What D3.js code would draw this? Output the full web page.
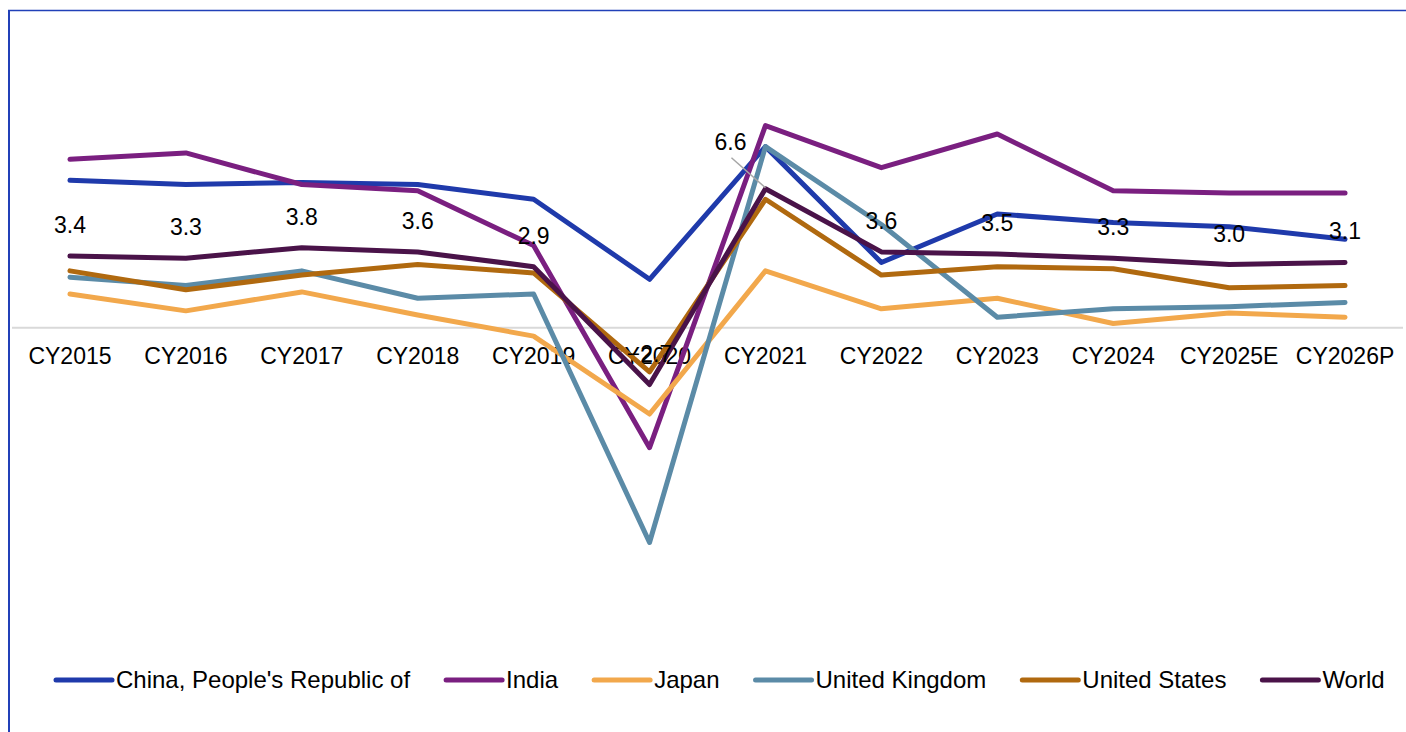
<!DOCTYPE html>
<html>
<head>
<meta charset="utf-8">
<script src="https://cdn.jsdelivr.net/npm/d3@7"></script>
<style>
  html, body { margin: 0; padding: 0; background: #ffffff; }
  svg { display: block; font-family: "Liberation Sans", Arial, sans-serif; }
</style>
</head>
<body>
<svg id="chart" width="1406" height="732"></svg>
<script>
// Real GDP growth (%), calendar years
const categories = ["CY2015", "CY2016", "CY2017", "CY2018", "CY2019", "CY2020",
                    "CY2021", "CY2022", "CY2023", "CY2024", "CY2025E", "CY2026P"];
const china = [7.0, 6.8, 6.9, 6.8, 6.1, 2.3, 8.6, 3.1, 5.4, 5.0, 4.8, 4.2];
const india = [8.0, 8.3, 6.8, 6.5, 3.9, -5.7, 9.6, 7.6, 9.2, 6.5, 6.4, 6.4];
const japan = [1.6, 0.8, 1.7, 0.6, -0.4, -4.1, 2.7, 0.9, 1.4, 0.2, 0.7, 0.5];
const unitedKingdom = [2.4, 2.0, 2.7, 1.4, 1.6, -10.2, 8.6, 4.9, 0.5, 0.9, 1.0, 1.2];
const unitedStates = [2.7, 1.8, 2.5, 3.0, 2.6, -2.1, 6.1, 2.5, 2.9, 2.8, 1.9, 2.0];
const world = [3.4, 3.3, 3.8, 3.6, 2.9, -2.7, 6.6, 3.6, 3.5, 3.3, 3.0, 3.1];

const seriesNames = ["China, People's Republic of", "India", "Japan",
                     "United Kingdom", "United States", "World"];
const seriesColors = ["#1f3aab", "#7a1f80", "#f2a84c", "#5b8ba7", "#b0690f", "#4a1349"];
const seriesValues = [china, india, japan, unitedKingdom, unitedStates, world];

const series = seriesNames.map((name, i) => ({
  name, color: seriesColors[i], values: seriesValues[i]
}));

const svg = d3.select("#chart");

// frame
svg.append("line").attr("x1", 8).attr("x2", 1406).attr("y1", 10.5).attr("y2", 10.5)
  .attr("stroke", "#2140b8").attr("stroke-width", 1.5);
svg.append("line").attr("x1", 9).attr("x2", 9).attr("y1", 10).attr("y2", 732)
  .attr("stroke", "#2140b8").attr("stroke-width", 2);

const x = d3.scaleBand().domain(categories).range([12, 1403]).padding(0);
const y = d3.scaleLinear().domain([-15, 15]).range([643.5, 11.9]);
const cx = c => x(c) + x.bandwidth() / 2;

// zero baseline
svg.append("line")
  .attr("x1", x.range()[0]).attr("x2", x.range()[1])
  .attr("y1", y(0)).attr("y2", y(0))
  .attr("stroke", "#d9d9d9").attr("stroke-width", 2);

// category axis labels sitting under the baseline
const axis = d3.axisBottom(x).tickSize(0).tickPadding(0);
const axisG = svg.append("g").attr("transform", `translate(0,${y(0)})`).call(axis);
axisG.select(".domain").remove();
axisG.selectAll("text")
  .attr("y", 28).attr("dy", "0.35em")
  .attr("font-size", 23)
  .attr("font-family", "Liberation Sans, Arial, sans-serif")
  .attr("fill", "#000");

// series lines
const line = d3.line()
  .x((d, i) => cx(categories[i]))
  .y(d => y(d));

svg.append("g").selectAll("path")
  .data(series)
  .join("path")
  .attr("d", s => line(s.values))
  .attr("fill", "none")
  .attr("stroke", s => s.color)
  .attr("stroke-width", 5)
  .attr("stroke-linejoin", "round")
  .attr("stroke-linecap", "round");

// World value labels
const fmt = d3.format(".1f");
const labelData = world.map((v, i) => ({ v, c: categories[i] }));
const movedIdx = categories.indexOf("CY2021");
const labelG = svg.append("g");

labelData.forEach((d, i) => {
  let lx = cx(d.c), ly = y(d.v) - 31;
  if (i === movedIdx) {
    lx = cx(d.c) - 35;
    ly = y(d.v) - 47;
    labelG.append("line")
      .attr("x1", lx + 1).attr("y1", ly + 16)
      .attr("x2", cx(d.c)).attr("y2", y(d.v) - 1)
      .attr("stroke", "#a6a6a6").attr("stroke-width", 1.5);
  }
  labelG.append("text")
    .attr("x", lx).attr("y", ly).attr("dy", "0.35em")
    .attr("text-anchor", "middle")
    .attr("font-size", 23)
    .attr("fill", "#000")
    .text(fmt(d.v));
});

// legend
const legend = svg.append("g").attr("transform", "translate(0,680)");
let lxPos = 56;
series.forEach(s => {
  const g = legend.append("g").attr("transform", `translate(${lxPos},0)`);
  g.append("line")
    .attr("x1", 0).attr("x2", 56).attr("y1", 0).attr("y2", 0)
    .attr("stroke", s.color).attr("stroke-width", 5).attr("stroke-linecap", "round");
  const t = g.append("text")
    .attr("x", 60).attr("y", 0).attr("dy", "0.35em")
    .attr("font-size", 24)
    .attr("fill", "#000")
    .text(s.name);
  const w = t.node().getComputedTextLength();
  lxPos += 60 + w + 36;
});
</script>
</body>
</html>
